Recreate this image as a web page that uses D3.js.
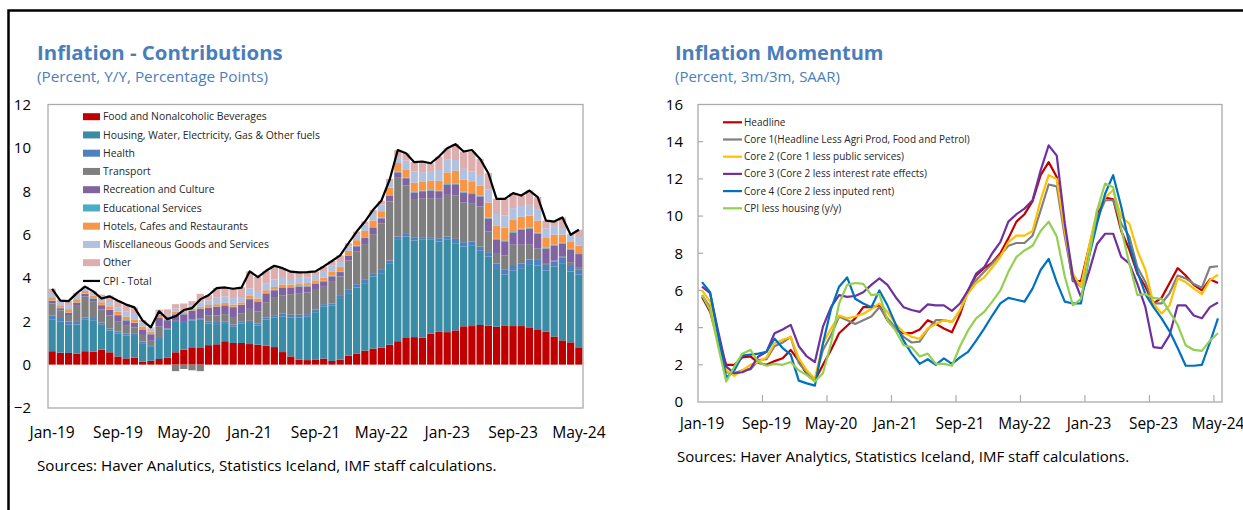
<!DOCTYPE html>
<html>
<head>
<meta charset="utf-8">
<script src="https://cdnjs.cloudflare.com/ajax/libs/d3/7.8.5/d3.min.js"></script>
<style>
  body { margin: 0; background: #fff; }
  svg text { font-family: "Open Sans", "Noto Sans", sans-serif; }
</style>
</head>
<body>
<div id="chart"></div>
<script>
// months Jan-19 .. May-24
var months = ["Jan-19","Feb-19","Mar-19","Apr-19","May-19","Jun-19","Jul-19","Aug-19","Sep-19","Oct-19","Nov-19","Dec-19",
  "Jan-20","Feb-20","Mar-20","Apr-20","May-20","Jun-20","Jul-20","Aug-20","Sep-20","Oct-20","Nov-20","Dec-20",
  "Jan-21","Feb-21","Mar-21","Apr-21","May-21","Jun-21","Jul-21","Aug-21","Sep-21","Oct-21","Nov-21","Dec-21",
  "Jan-22","Feb-22","Mar-22","Apr-22","May-22","Jun-22","Jul-22","Aug-22","Sep-22","Oct-22","Nov-22","Dec-22",
  "Jan-23","Feb-23","Mar-23","Apr-23","May-23","Jun-23","Jul-23","Aug-23","Sep-23","Oct-23","Nov-23","Dec-23",
  "Jan-24","Feb-24","Mar-24","Apr-24","May-24"];
var tickLabels = ["Jan-19","Sep-19","May-20","Jan-21","Sep-21","May-22","Jan-23","Sep-23","May-24"];

// left chart: contributions (pp)
var food = [0.62,0.55,0.54,0.5,0.62,0.6,0.69,0.57,0.38,0.29,0.32,0.14,0.18,0.26,0.32,0.57,0.69,0.8,0.77,0.9,0.94,1.08,1.0,1.0,
  0.95,0.92,0.88,0.81,0.58,0.38,0.23,0.21,0.22,0.28,0.17,0.23,0.41,0.5,0.65,0.74,0.78,0.92,1.08,1.23,1.27,1.24,1.43,1.52,
  1.5,1.58,1.77,1.78,1.83,1.8,1.75,1.81,1.78,1.78,1.72,1.63,1.52,1.3,1.12,1.03,0.8];
var housing = [1.45,1.45,1.3,1.35,1.45,1.45,1.15,1.0,1.05,1.05,1.0,0.85,0.67,0.92,1.3,1.4,1.23,1.23,1.3,1.0,0.93,0.8,0.75,0.9,
  0.97,0.88,1.2,1.37,1.65,1.8,1.95,2.0,2.2,2.41,2.55,2.84,2.89,3.06,3.11,3.33,3.44,3.73,4.71,4.68,4.46,4.52,4.33,4.16,
  4.26,4.02,3.68,3.7,3.42,3.19,2.66,2.34,2.55,2.67,2.88,2.95,2.83,3.23,3.56,3.27,3.35];
var health = [0.2,0.15,0.15,0.12,0.1,0.1,0.1,0.1,0.1,0.1,0.1,0.08,0.05,0.05,0.05,0.05,0.05,0.05,0.05,0.08,0.1,0.1,0.1,0.1,
  0.1,0.1,0.1,0.1,0.12,0.12,0.12,0.12,0.12,0.1,0.1,0.1,0.15,0.15,0.15,0.15,0.15,0.15,0.12,0.12,0.12,0.12,0.12,0.15,
  0.15,0.2,0.2,0.2,0.2,0.2,0.25,0.25,0.22,0.22,0.25,0.25,0.25,0.22,0.25,0.25,0.25];
var transport = [0.55,0.35,0.3,0.78,0.97,0.75,0.6,0.6,0.45,0.35,0.3,0.3,0.2,0.54,0.0,-0.3,-0.2,-0.26,-0.3,0.3,0.3,0.35,0.35,0.35,
  0.55,0.55,0.7,0.8,0.85,0.95,1.0,1.0,0.95,0.8,1.0,0.9,1.35,1.5,1.65,1.8,2.15,2.73,2.74,2.23,1.75,1.8,1.8,1.82,
  1.92,2.0,1.84,1.74,1.85,0.95,0.45,0.64,0.98,0.86,0.68,0.52,0.05,0.05,0.05,0.15,0.1];
var recreation = [0.12,0.1,0.1,0.1,0.12,0.15,0.2,0.25,0.3,0.25,0.2,0.25,0.3,0.4,0.38,0.3,0.35,0.4,0.45,0.35,0.4,0.4,0.45,0.4,
  0.45,0.45,0.4,0.35,0.35,0.3,0.3,0.28,0.25,0.25,0.25,0.2,0.22,0.25,0.28,0.3,0.23,0.26,0.22,0.34,0.34,0.32,0.35,0.35,
  0.46,0.52,0.45,0.45,0.46,0.6,0.65,0.65,0.55,0.7,0.75,0.7,0.7,0.7,0.6,0.6,0.6];
var education = [0.02,0.02,0.02,0.02,0.02,0.02,0.02,0.02,0.02,0.02,0.02,0.02,0.02,0.02,0.02,0.02,0.02,0.02,0.02,0.02,0.02,0.02,0.02,0.02,
  0.03,0.03,0.03,0.03,0.03,0.03,0.03,0.03,0.03,0.03,0.03,0.03,0.03,0.03,0.03,0.03,0.03,0.03,0.03,0.03,0.03,0.03,0.03,0.03,
  0.04,0.04,0.04,0.04,0.04,0.04,0.04,0.04,0.04,0.04,0.04,0.04,0.04,0.04,0.04,0.04,0.04];
var hotels = [0.15,0.12,0.15,0.15,0.12,0.12,0.12,0.15,0.15,0.15,0.15,0.12,0.1,0.1,0.08,0.1,0.08,0.08,0.08,0.1,0.1,0.1,0.1,0.1,
  0.12,0.12,0.12,0.12,0.12,0.12,0.12,0.12,0.12,0.15,0.18,0.2,0.2,0.25,0.3,0.3,0.3,0.35,0.4,0.38,0.43,0.4,0.42,0.45,
  0.54,0.58,0.55,0.55,0.45,0.7,0.6,0.6,0.55,0.55,0.55,0.55,0.45,0.45,0.38,0.35,0.35];
var misc = [0.15,0.15,0.15,0.15,0.12,0.12,0.1,0.2,0.2,0.25,0.25,0.2,0.15,0.15,0.15,0.15,0.15,0.15,0.2,0.2,0.3,0.3,0.3,0.25,
  0.35,0.35,0.3,0.35,0.3,0.25,0.25,0.25,0.25,0.3,0.3,0.23,0.2,0.25,0.3,0.3,0.3,0.3,0.25,0.4,0.5,0.45,0.45,0.5,
  0.58,0.5,0.5,0.45,0.5,0.6,0.55,0.55,0.55,0.5,0.5,0.5,0.45,0.45,0.3,0.3,0.4];
var other = [0.24,0.1,0.22,0.13,0.08,0.07,0.25,0.3,0.3,0.31,0.3,0.1,0.05,0.1,0.25,0.2,0.25,0.2,0.4,0.25,0.45,0.4,0.45,0.45,
  0.78,0.64,0.6,0.63,0.45,0.34,0.26,0.26,0.16,0.21,0.2,0.31,0.15,0.15,0.13,0.19,0.18,0.1,0.35,0.34,0.44,0.49,0.36,0.62,
  0.53,0.73,0.8,0.9,0.74,0.75,0.7,0.77,0.69,0.48,0.66,0.59,0.35,0.16,0.49,0.05,0.33];
var cpiTotal = [3.5,2.95,2.93,3.3,3.6,3.38,3.05,3.15,2.95,2.77,2.64,2.03,1.72,2.46,2.1,2.23,2.52,2.61,3.01,3.2,3.53,3.56,3.5,3.55,
  4.3,4.04,4.33,4.56,4.45,4.29,4.26,4.27,4.3,4.53,4.78,5.04,5.6,6.14,6.6,7.14,7.56,8.52,9.9,9.75,9.34,9.37,9.29,9.6,
  9.98,10.17,9.83,9.9,9.49,8.83,7.65,7.65,7.91,7.8,8.03,7.73,6.64,6.6,6.79,5.99,6.22];

// right chart: momentum (3m/3m saar)
var headline = [5.65,4.85,3.3,2.0,2.0,2.4,2.45,2.1,2.0,2.2,2.35,2.8,2.2,1.5,1.15,2.0,2.8,3.7,4.1,4.5,5.1,5.1,5.2,4.4,
  3.9,3.7,3.7,3.9,4.4,4.2,3.95,3.75,4.7,6.0,6.8,7.2,7.5,8.0,8.8,9.7,10.1,10.8,12.2,12.9,12.1,9.2,6.5,6.5,
  8.3,10.1,11.0,10.9,9.2,8.2,6.9,6.2,5.3,5.6,6.4,7.2,6.8,6.3,6.0,6.6,6.4];
var core1 = [5.75,5.1,3.4,1.6,1.55,1.7,1.75,2.25,2.3,3.0,3.2,3.5,2.1,1.6,1.2,2.8,3.6,4.6,4.4,4.2,4.4,4.6,5.1,4.5,
  4.0,3.5,3.2,3.25,3.9,4.4,4.4,4.3,4.9,6.0,6.55,7.0,7.45,7.9,8.4,8.55,8.55,8.95,10.3,11.7,11.6,8.9,6.55,6.2,
  8.15,9.85,10.85,10.85,9.6,8.9,7.25,6.45,5.3,5.3,5.85,6.8,6.65,6.35,6.15,7.25,7.3];
var core2 = [6.0,5.4,3.4,1.7,1.4,1.7,2.0,2.15,2.4,3.15,3.35,3.5,2.35,1.7,1.25,3.15,3.95,4.65,4.5,4.6,4.75,5.0,5.3,4.85,
  4.2,3.75,3.5,3.4,3.95,4.2,4.4,4.3,4.95,5.85,6.4,6.7,7.25,7.8,8.6,8.95,8.95,9.2,10.85,12.2,12.0,9.2,6.9,6.2,
  8.35,10.3,11.0,11.4,9.95,9.6,8.15,7.1,5.3,4.75,5.2,6.65,6.45,6.1,5.8,6.55,6.85];
var core3 = [6.2,5.85,3.8,1.9,1.55,1.6,1.8,2.45,2.7,3.7,3.9,4.15,3.0,2.45,2.15,4.05,5.1,5.75,5.65,5.7,5.9,6.3,6.65,6.3,
  5.65,5.1,4.95,4.85,5.25,5.2,5.2,4.9,5.3,6.0,6.9,7.25,8.0,8.6,9.7,10.1,10.4,10.85,12.45,13.8,13.25,9.6,6.75,5.65,
  7.0,8.5,9.05,9.05,7.8,7.45,6.35,5.1,2.95,2.9,3.6,5.2,5.2,4.65,4.5,5.1,5.35];
var core4 = [6.45,5.9,3.6,1.3,1.7,2.5,2.55,2.6,2.7,3.4,2.9,2.55,1.15,1.0,0.88,3.15,5.0,6.2,6.7,5.55,5.3,5.1,6.0,5.2,
  4.2,3.3,2.6,2.05,2.3,2.0,2.35,2.05,2.4,2.7,3.3,3.95,4.65,5.3,5.6,5.5,5.4,6.1,7.1,7.7,6.45,5.4,5.3,5.3,
  7.8,9.6,11.2,12.2,10.5,8.5,7.0,5.8,5.1,4.5,3.8,2.9,1.95,1.95,2.0,3.2,4.5];
var cpiLessHousing = [5.75,4.95,3.0,1.1,1.9,2.6,2.8,2.15,1.95,2.05,2.0,2.15,1.7,1.45,1.1,1.55,3.15,5.3,6.3,6.4,6.35,5.75,5.8,4.4,
  3.85,3.05,2.95,2.45,2.6,2.05,2.05,1.95,3.0,3.85,4.5,4.85,5.4,6.0,7.0,7.8,8.15,8.4,9.2,9.7,8.9,6.75,5.2,5.55,
  7.8,10.3,11.75,11.55,9.3,7.45,5.75,5.8,5.6,5.55,4.85,4.15,3.05,2.8,2.75,3.3,3.7];

var barKeys = ["food","housing","health","transport","recreation","education","hotels","misc","other"];
var barNames = ["Food and Nonalcoholic Beverages","Housing, Water, Electricity, Gas & Other fuels","Health","Transport",
  "Recreation and Culture","Educational Services","Hotels, Cafes and Restaurants","Miscellaneous Goods and Services","Other"];
var barColors = ["#c00000","#3a8ba5","#4f81bd","#7f7f7f","#8064a2","#4bacc6","#f79646","#b1c1df","#deadad"];

var lineNames = ["Headline","Core 1(Headline Less Agri Prod, Food and Petrol)","Core 2 (Core 1 less public services)",
  "Core 3 (Core 2 less interest rate effects)","Core 4 (Core 2 less inputed rent)","CPI less housing (y/y)"];
var lineColors = ["#c00000","#808080","#ffc000","#7030a0","#0070c0","#92d050"];
var lineSeries = [headline, core1, core2, core3, core4, cpiLessHousing];

var titleColor = "#4a7ebb";
var frameColor = "#ababab";

var svg = d3.select("#chart").append("svg").attr("width", 1243).attr("height", 510);

// outer black frame (top and left only visible)
svg.append("path").attr("d", "M8.5,512 V10.5 H1245").attr("fill", "none")
  .attr("stroke", "#000").attr("stroke-width", 2.5);

// ---------- left chart ----------
svg.append("text").attr("x", 37).attr("y", 60).attr("font-size", 20.4).attr("font-weight", "bold")
  .attr("fill", titleColor).text("Inflation - Contributions");
svg.append("text").attr("x", 37).attr("y", 82).attr("font-size", 15.3)
  .attr("fill", titleColor).text("(Percent, Y/Y, Percentage Points)");

var table = months.map(function(m, i) {
  return {month: m, food: food[i], housing: housing[i], health: health[i], transport: transport[i],
    recreation: recreation[i], education: education[i], hotels: hotels[i], misc: misc[i], other: other[i]};
});

var x1 = d3.scaleBand().domain(months).range([48, 583]).paddingInner(0.12).paddingOuter(0.06);
var y1 = d3.scaleLinear().domain([-2, 12]).range([408, 104.5]);

var stacked = d3.stack().keys(barKeys).offset(d3.stackOffsetDiverging)(table);

var g1 = svg.append("g");
g1.selectAll("g.layer").data(stacked).enter().append("g").attr("class", "layer")
  .attr("fill", function(d, i) { return barColors[i]; })
  .selectAll("rect").data(function(d) { return d; }).enter().append("rect")
  .attr("x", function(d) { return x1(d.data.month); })
  .attr("width", x1.bandwidth())
  .attr("y", function(d) { return y1(Math.max(d[0], d[1])); })
  .attr("height", function(d) { return Math.abs(y1(d[0]) - y1(d[1])); });

var cpiLine = d3.line()
  .x(function(d, i) { return x1(months[i]) + x1.bandwidth() / 2; })
  .y(function(d) { return y1(d); });
g1.append("path").datum(cpiTotal).attr("d", cpiLine).attr("fill", "none")
  .attr("stroke", "#000").attr("stroke-width", 2.2).attr("stroke-linejoin", "round");

g1.append("rect").attr("x", 48).attr("y", 104.5).attr("width", 535).attr("height", 303.5)
  .attr("fill", "none").attr("stroke", frameColor).attr("stroke-width", 1.3);

var yAxis1 = svg.append("g").attr("transform", "translate(48,0)")
  .call(d3.axisLeft(y1).tickValues(d3.range(-2, 13, 2)).tickSize(0).tickPadding(17));
yAxis1.select(".domain").remove();
yAxis1.selectAll("text").attr("font-size", 15).attr("fill", "#000").style("font-family", "'Open Sans', sans-serif");

var xAxis1 = svg.append("g").attr("transform", "translate(0,408)")
  .call(d3.axisBottom(x1).tickValues(tickLabels).tickSize(0).tickPadding(19));
xAxis1.select(".domain").remove();
xAxis1.selectAll("text").attr("font-size", 15.6).attr("fill", "#000").style("font-family", "'Open Sans', sans-serif");

// legend
var leg1 = svg.append("g");
barNames.forEach(function(name, i) {
  var ly = 116.7 + i * 18.25;
  leg1.append("rect").attr("x", 83).attr("y", ly - 3.5).attr("width", 17).attr("height", 7).attr("fill", barColors[i]);
  leg1.append("text").attr("x", 103).attr("y", ly).attr("dy", "0.35em").attr("font-size", 10.4)
    .attr("fill", "#262626").text(name);
});
var ly1 = 116.7 + barNames.length * 18.25;
leg1.append("line").attr("x1", 83).attr("x2", 100).attr("y1", ly1).attr("y2", ly1).attr("stroke", "#000").attr("stroke-width", 2.2);
leg1.append("text").attr("x", 103).attr("y", ly1).attr("dy", "0.35em").attr("font-size", 10.4)
  .attr("fill", "#262626").text("CPI - Total");

svg.append("text").attr("x", 37).attr("y", 471).attr("font-size", 15.2).attr("fill", "#000")
  .text("Sources: Haver Analutics, Statistics Iceland, IMF staff calculations.");

// ---------- right chart ----------
svg.append("text").attr("x", 675).attr("y", 60).attr("font-size", 20).attr("font-weight", "bold")
  .attr("fill", titleColor).text("Inflation Momentum");
svg.append("text").attr("x", 675).attr("y", 82).attr("font-size", 15)
  .attr("fill", titleColor).text("(Percent, 3m/3m, SAAR)");

var x2 = d3.scaleBand().domain(months).range([698, 1222]);
var y2 = d3.scaleLinear().domain([0, 16]).range([402, 104.5]);

var g2 = svg.append("g");
g2.append("rect").attr("x", 698).attr("y", 104.5).attr("width", 524).attr("height", 297.5)
  .attr("fill", "none").attr("stroke", frameColor).attr("stroke-width", 1.3);

// inside ticks
g2.selectAll("line.xt").data(tickLabels.slice(1)).enter().append("line").attr("class", "xt")
  .attr("x1", function(d) { return x2(d); }).attr("x2", function(d) { return x2(d); })
  .attr("y1", 402).attr("y2", 395).attr("stroke", frameColor).attr("stroke-width", 1.2);
g2.selectAll("line.yt").data(d3.range(2, 16, 2)).enter().append("line").attr("class", "yt")
  .attr("x1", 698).attr("x2", 703)
  .attr("y1", function(d) { return y2(d); }).attr("y2", function(d) { return y2(d); })
  .attr("stroke", frameColor).attr("stroke-width", 1.2);

var momLine = d3.line()
  .x(function(d, i) { return x2(months[i]) + x2.bandwidth() / 2; })
  .y(function(d) { return y2(d); });
lineSeries.forEach(function(s, i) {
  g2.append("path").datum(s).attr("d", momLine).attr("fill", "none")
    .attr("stroke", lineColors[i]).attr("stroke-width", 2.2).attr("stroke-linejoin", "round");
});

var yAxis2 = svg.append("g").attr("transform", "translate(698,0)")
  .call(d3.axisLeft(y2).tickValues(d3.range(0, 17, 2)).tickSize(0).tickPadding(15));
yAxis2.select(".domain").remove();
yAxis2.selectAll("text").attr("font-size", 15).attr("fill", "#000").style("font-family", "'Open Sans', sans-serif");

var xAxis2 = svg.append("g").attr("transform", "translate(0,402)")
  .call(d3.axisBottom(x2).tickValues(tickLabels).tickSize(0).tickPadding(16));
xAxis2.select(".domain").remove();
xAxis2.selectAll("text").attr("font-size", 15.4).attr("fill", "#000").style("font-family", "'Open Sans', sans-serif");

var leg2 = svg.append("g");
lineNames.forEach(function(name, i) {
  var ly = 122.3 + i * 17.2;
  leg2.append("line").attr("x1", 723).attr("x2", 742).attr("y1", ly).attr("y2", ly)
    .attr("stroke", lineColors[i]).attr("stroke-width", 2.2);
  leg2.append("text").attr("x", 744).attr("y", ly).attr("dy", "0.35em").attr("font-size", 10)
    .attr("fill", "#262626").text(name);
});

svg.append("text").attr("x", 677).attr("y", 462).attr("font-size", 15).attr("fill", "#000")
  .text("Sources: Haver Analytics, Statistics Iceland, IMF staff calculations.");
</script>
</body>
</html>
